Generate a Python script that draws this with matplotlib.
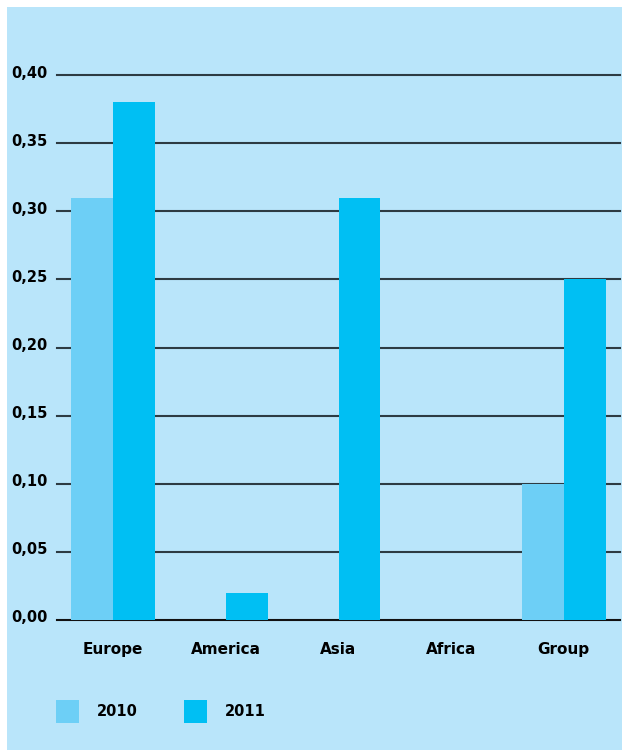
import matplotlib
matplotlib.use("Agg")
import matplotlib.pyplot as plt
import matplotlib.transforms as mtransforms
from matplotlib.patches import Rectangle
import numpy as np

regions = ["Europe", "America", "Asia", "Africa", "Group"]
values_2010 = [0.31, 0.0, 0.0, 0.0, 0.10]
values_2011 = [0.38, 0.02, 0.31, 0.0, 0.25]
yticks = [0.0, 0.05, 0.10, 0.15, 0.20, 0.25, 0.30, 0.35, 0.40]
ytick_labels = ["0,00", "0,05", "0,10", "0,15", "0,20", "0,25", "0,30", "0,35", "0,40"]

bg = "#b9e5fa"
c2010 = "#6dcff6"
c2011 = "#00bff3"

plt.rcParams['font.family'] = ['DejaVu Sans']
plt.rcParams['font.weight'] = 'bold'

W, H = 622, 751
fig = plt.figure(figsize=(W / 100, H / 100), dpi=100)
fig.patch.set_facecolor("white")
# light blue panel
fig.add_artist(Rectangle((7 / W, 1 - 750 / H), 615 / W, 743 / H,
                         transform=fig.transFigure, facecolor=bg,
                         edgecolor="none", zorder=0))

ax = fig.add_axes([57 / W, 1 - 620 / H, 563 / W, 545 / H])
ax.set_facecolor("none")

x = np.arange(len(regions))
w = 0.373
b1 = ax.bar(x - w / 2, values_2010, w, color=c2010, label="2010", zorder=3)
b2 = ax.bar(x + w / 2, values_2011, w, color=c2011, label="2011", zorder=3)

ax.set_xlim(-0.5, 4.5)
ax.set_ylim(0, 0.40)
ax.set_yticks(yticks)
ax.set_yticklabels(ytick_labels)
ax.set_xticks(x)
ax.set_xticklabels(regions)

for t in yticks:
    col = "#111111" if t == 0 else "#2d3b42"
    ax.axhline(t, color=col, lw=1.5, zorder=1, clip_on=False)

for s in ax.spines.values():
    s.set_visible(False)
ax.tick_params(axis="y", length=0, pad=6.5, labelsize=10.5)
ax.tick_params(axis="x", length=0, pad=15.5, labelsize=11)

# y labels sit a little above their lines
up = mtransforms.ScaledTranslation(0, 3.5 / 100, fig.dpi_scale_trans)
for tick in ax.yaxis.get_major_ticks():
    tick.label1.set_transform(tick.label1.get_transform() + up)

fig.legend(handles=[b1, b2], labels=["2010", "2011"], ncol=2,
           loc="upper left", bbox_to_anchor=(56 / W, 1 - 700 / H),
           bbox_transform=fig.transFigure, frameon=False,
           handlelength=1.58, handleheight=2.05, handletextpad=1.2,
           columnspacing=3.2, borderpad=0, borderaxespad=0,
           prop={"size": 10.5, "weight": "bold"})

fig.savefig("out.png", dpi=100, facecolor="white")
